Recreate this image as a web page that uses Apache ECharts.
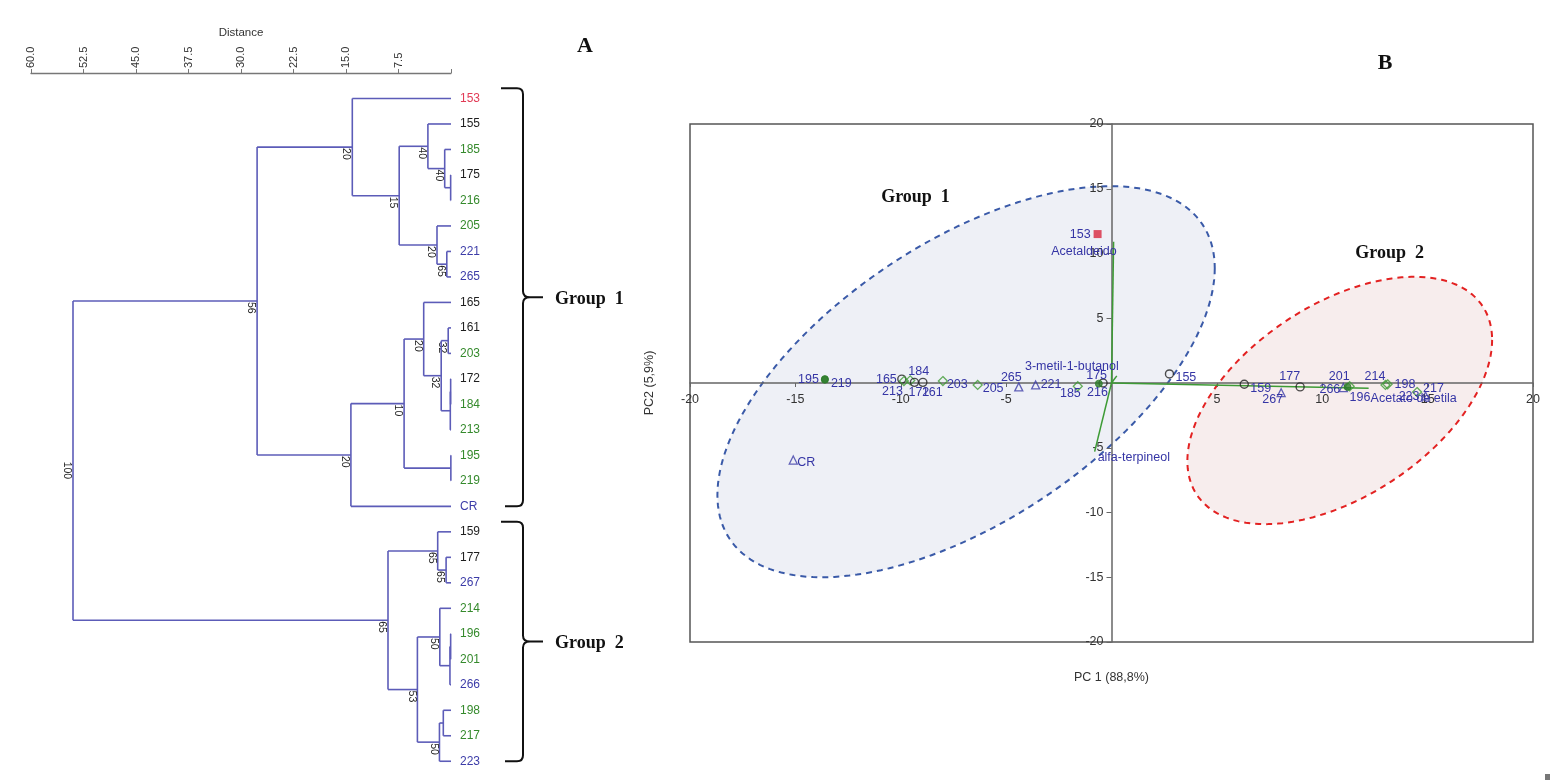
<!DOCTYPE html>
<html>
<head>
<meta charset="utf-8">
<script src="https://cdn.jsdelivr.net/npm/echarts@6.0.0/dist/echarts.min.js"></script>
<style>
html,body{margin:0;padding:0;background:#ffffff;}
#chart{width:1562px;height:780px;}
</style>
</head>
<body>
<div id="chart"></div>
<script>
/* ================= Panel A : dendrogram ================= */
const leaves = ['153','155','185','175','216','205','221','265','165','161','203','172','184','213','195','219','CR','159','177','267','214','196','201','266','198','217','223'];
const leafGroup = ['red','black','green','black','green','green','blue','blue','black','black','green','black','green','green','green','green','blue','black','black','blue','green','green','green','blue','green','green','blue'];
// merges (children are leaf names or 'm<index>')
const mergeLeft    = ['175','185','155','221','205','m2','153','161','172','m8','m7','165','195','m11','m13','m6','177','159','196','m18','214','198','m21','m20','m17','m15'];
const mergeRight   = ['216','m0','m1','265','m3','m4','m5','203','184','213','m9','m10','219','m12','CR','m14','267','m16','201','266','m19','217','223','m22','m23','m24'];
const mergeHeight  = [0.05,0.9,3.3,0.6,2.0,7.4,14.1,0.4,0.05,0.1,1.4,3.9,0.02,6.7,14.3,27.7,0.7,1.9,0.05,0.15,1.6,1.1,1.65,4.8,9.0,54.0];
const mergeSupport = ['','40','40','65','20','15','20','32','','','32','20','','10','20','56','65','65','','','50','','50','53','65','100'];
const distanceLabels = ['7.5','15.0','22.5','30.0','37.5','45.0','52.5','60.0'];
const groupNames = ['Group  1','Group  2'];
const groupFirstLeaf = ['153','159'];
const groupLastLeaf = ['CR','223'];

/* ================= Panel B : PCA biplot ================= */
const pcaSamples = ['195','219','165','213','184','172','161','203','205','265','221','185','175','216','CR','153','155','159','267','177','266','201','196','214','198','217','223'];
const pc1 = [-13.6,-13.6,-9.95,-9.85,-9.55,-9.35,-8.95,-8.0,-6.35,-4.4,-3.6,-1.6,-0.4,-0.6,-15.1,-0.66,2.75,6.3,8.05,8.95,11.0,11.3,11.2,13.0,13.1,14.5,14.9];
const pc2 = [0.3,0.25,0.3,0.15,0.2,0.05,0.05,0.15,-0.15,-0.3,-0.15,-0.25,0.0,-0.05,-5.95,11.5,0.7,-0.1,-0.75,-0.3,-0.35,-0.25,-0.3,-0.15,-0.1,-0.7,-1.0];
const pcaMarker = ['g','g','o','d','d','o','o','d','d','t','t','d','o','g','t','s','o','o','t','o','t','d','g','d','d','d','t'];
const variables = ['Acetaldeido','3-metil-1-butanol','alfa-terpineol','Acetato de etila'];
const loadPC1 = [0.1,0.25,-0.8,12.2];
const loadPC2 = [10.9,0.55,-5.3,-0.4];
const ellipseCX = [-6.9,10.83];
const ellipseCY = [0.1,-1.35];
const ellipseRX = [11.8,7.23];
const ellipseRY = [15.1,9.55];
const ellipseCorr = [0.58,0.49];
const pcaTickLabels = [-20,-15,-10,-5,5,10,15,20];

/* ---------------- styles (kept apart from data) ---------------- */
const SANS = "'Liberation Sans', Arial, Helvetica, sans-serif";
const SERIF = "'Liberation Serif', 'Times New Roman', serif";
const LEAF_COLORS = {red:'#e23a55', black:'#1e1e1e', green:'#358a2c', blue:'#3c3ca8'};
const TREE_COLOR = '#5c5cb8';
const LABEL_BLUE = '#3535a5';
const labelPlace = { // [align, dx, dy] in px relative to marker
  '195':['right',-6,0],'219':['left',6,4],'165':['right',-5,0],'213':['right',-1,10],'184':['left',-2,-9],
  '172':['left',-6,10],'161':['left',-1,10],'203':['left',4,3],'205':['left',5,4],'265':['right',3,-9],
  '221':['left',5,0],'185':['right',3,7],'175':['right',4,-7],'216':['right',9,9],'CR':['left',4,2],
  '153':['right',-7,0],'155':['left',6,4],'159':['left',6,4],'267':['right',2,7],'177':['right',0,-10],
  '266':['right',-3,2],'201':['right',0,-10],'196':['left',2,11],'214':['right',0,-8],'198':['left',7,0],
  '217':['left',6,-4],'223':['right',-6,1]
};
const loadLabelPlace = [['right',3,10],['right',2,-9],['left',3,6],['left',2,10]];
const markerStyle = {
  o:{symbol:'circle',size:8,item:{color:'rgba(0,0,0,0)',borderColor:'#222',borderWidth:1.4}},
  d:{symbol:'diamond',size:9,item:{color:'rgba(0,0,0,0)',borderColor:'#3f9a35',borderWidth:1.3}},
  g:{symbol:'circle',size:7,item:{color:'#2d7d2a',borderColor:'#2d7d2a',borderWidth:1}},
  t:{symbol:'triangle',size:8,item:{color:'rgba(0,0,0,0)',borderColor:'#3c3ca8',borderWidth:1.3}},
  s:{symbol:'rect',size:8,item:{color:'#d8283f',borderColor:'#d8283f',borderWidth:0}}
};
const ellipseStroke = ['#3a5aa8','#e32222'];
const ellipseFill = ['#eef0f6','#f7eded'];

/* ---------------- derived tree geometry ---------------- */
const nodeY = {}, nodeH = {};
leaves.forEach((n,i)=>{nodeY[n]=i; nodeH[n]=0;});
mergeLeft.forEach((a,i)=>{
  const b = mergeRight[i];
  nodeY['m'+i] = (nodeY[a]+nodeY[b])/2;
  nodeH['m'+i] = mergeHeight[i];
});
const dendroData = mergeLeft.map((a,i)=>{
  const b = mergeRight[i];
  return [mergeHeight[i], nodeY[a], nodeY[b], nodeH[a], nodeH[b]];
});

function renderDendro(params, api){
  const h=api.value(0), yA=api.value(1), yB=api.value(2), hA=api.value(3), hB=api.value(4);
  const pT=api.coord([h,yA]), pB=api.coord([h,yB]), cA=api.coord([hA,yA]), cB=api.coord([hB,yB]);
  const st={stroke:TREE_COLOR,lineWidth:1.6};
  const ch=[
    {type:'line',shape:{x1:pT[0],y1:pT[1],x2:pB[0],y2:pB[1]},style:st},
    {type:'line',shape:{x1:cA[0],y1:cA[1],x2:pT[0],y2:pT[1]},style:st},
    {type:'line',shape:{x1:cB[0],y1:cB[1],x2:pB[0],y2:pB[1]},style:st}
  ];
  const sup = mergeSupport[params.dataIndex];
  if (sup){
    const m=api.coord([h,(yA+yB)/2]);
    ch.push({type:'text',x:m[0]-6,y:m[1]+1,rotation:-Math.PI/2,
      style:{text:sup,fill:'#222',font:'10.5px '+SANS,align:'left',verticalAlign:'middle'}});
  }
  return {type:'group',children:ch};
}
function renderLeafLabel(params, api){
  const p=api.coord([api.value(0),api.value(1)]);
  const i=params.dataIndex;
  return {type:'text',x:p[0]+9,y:p[1],style:{text:leaves[i],fill:LEAF_COLORS[leafGroup[i]],font:'12px '+SANS,align:'left',verticalAlign:'middle'}};
}
function renderBrace(params, api){
  const k=params.dataIndex;
  const pTop=api.coord([0,api.value(1)]), pBot=api.coord([0,api.value(2)]);
  const bx=pTop[0]+72, top=pTop[1], bot=pBot[1], mid=(top+bot)/2;
  const d=`M${bx-22},${top} L${bx-6},${top} Q${bx},${top} ${bx},${top+6} L${bx},${mid-6} Q${bx},${mid} ${bx+7},${mid} L${bx+20},${mid} M${bx+7},${mid} Q${bx},${mid} ${bx},${mid+6} L${bx},${bot-6} Q${bx},${bot} ${bx-6},${bot} L${bx-18},${bot}`;
  return {type:'group',children:[
    {type:'path',shape:{pathData:d},style:{stroke:'#111',lineWidth:2,fill:null}},
    {type:'text',x:bx+32,y:mid+2,style:{text:groupNames[k],font:'bold 18px '+SERIF,fill:'#111',align:'left',verticalAlign:'middle'}}
  ]};
}
function renderEllipse(params, api){
  const i=params.dataIndex;
  const phi=Math.acos(ellipseCorr[i]);
  const pts=[];
  for(let k=0;k<=180;k++){
    const t=k/180*Math.PI*2;
    pts.push(api.coord([ellipseCX[i]+ellipseRX[i]*Math.cos(t), ellipseCY[i]+ellipseRY[i]*Math.cos(t+phi)]));
  }
  return {type:'polygon',shape:{points:pts},style:{fill:ellipseFill[i],stroke:ellipseStroke[i],lineWidth:2,lineDash:[6,5]}};
}
function renderLoading(params, api){
  const i=params.dataIndex;
  const o=api.coord([0,0]), p=api.coord([loadPC1[i],loadPC2[i]]);
  const pl=loadLabelPlace[i];
  return {type:'group',children:[
    {type:'line',shape:{x1:o[0],y1:o[1],x2:p[0],y2:p[1]},style:{stroke:'#3d9b35',lineWidth:1.5}},
    {type:'text',x:p[0]+pl[1],y:p[1]+pl[2],style:{text:variables[i],fill:LABEL_BLUE,font:'12.5px '+SANS,align:pl[0],verticalAlign:'middle'}}
  ]};
}
function renderPcaTicks(params, api){
  const v=pcaTickLabels[params.dataIndex];
  const px=api.coord([v,0]), py=api.coord([0,v]);
  const st={fill:'#333',font:'12.5px '+SANS};
  return {type:'group',children:[
    {type:'text',x:px[0],y:px[1]+17,style:Object.assign({text:String(v),align:'center',verticalAlign:'middle'},st)},
    {type:'text',x:py[0]-8,y:py[1],style:Object.assign({text:String(v),align:'right',verticalAlign:'middle'},st)}
  ]};
}

const scatterData = pcaSamples.map((n,i)=>{
  const m=markerStyle[pcaMarker[i]], pl=labelPlace[n];
  return {name:n,value:[pc1[i],pc2[i]],symbol:m.symbol,symbolSize:m.size,itemStyle:m.item,
    label:{show:true,formatter:n,position:'inside',align:pl[0],verticalAlign:'middle',offset:[pl[1],pl[2]],
      color:LABEL_BLUE,fontSize:12.5,fontFamily:SANS,textBorderWidth:0,opacity:1}};
});

const option = {
  animation:false,
  backgroundColor:'#ffffff',
  grid:[
    {left:31,right:1111,top:73,bottom:6,show:false},
    {left:690,right:29,top:124,bottom:138,show:true,borderColor:'#555',borderWidth:1.5,backgroundColor:'rgba(0,0,0,0)'}
  ],
  xAxis:[
    {gridIndex:0,type:'value',min:0,max:60,interval:7.5,inverse:true,position:'top',
     name:'Distance',nameLocation:'middle',nameGap:31,nameTextStyle:{color:'#333',fontSize:11.5,fontFamily:SANS},
     axisLine:{onZero:false,lineStyle:{color:'#777',width:1.3}},
     axisTick:{show:true,length:4,lineStyle:{color:'#777'}},
     axisLabel:{rotate:-90,margin:5,color:'#333',fontSize:11,fontFamily:SANS,
       formatter:(v)=>{const s=v.toFixed(1); return distanceLabels.indexOf(s)>=0?s:'';}},
     splitLine:{show:false}},
    {gridIndex:1,type:'value',min:-20,max:20,interval:5,z:3,
     axisLine:{onZero:true,lineStyle:{color:'#666',width:1.5}},
     axisTick:{show:true,length:4,lineStyle:{color:'#666'}},
     axisLabel:{show:false},
     splitLine:{show:false}}
  ],
  yAxis:[
    {gridIndex:0,type:'value',min:-1,max:26.5,inverse:true,show:false},
    {gridIndex:1,type:'value',min:-20,max:20,interval:5,z:3,
     axisLine:{onZero:true,lineStyle:{color:'#666',width:1.5}},
     axisTick:{show:true,length:5,lineStyle:{color:'#666'}},
     axisLabel:{show:false},
     splitLine:{show:false}}
  ],
  series:[
    {type:'custom',xAxisIndex:0,yAxisIndex:0,renderItem:renderDendro,data:dendroData,
     encode:{x:[0,3,4],y:[1,2]},silent:true,z:2},
    {type:'custom',xAxisIndex:0,yAxisIndex:0,renderItem:renderLeafLabel,data:leaves.map((n,i)=>[0,i]),
     encode:{x:0,y:1},silent:true,z:2},
    {type:'custom',xAxisIndex:0,yAxisIndex:0,renderItem:renderBrace,
     data:groupNames.map((n,k)=>[0,leaves.indexOf(groupFirstLeaf[k])-0.4,leaves.indexOf(groupLastLeaf[k])]),
     encode:{x:0,y:[1,2]},silent:true,z:2,clip:false},
    {type:'custom',xAxisIndex:1,yAxisIndex:1,renderItem:renderEllipse,data:ellipseCX.map((c,i)=>[c,ellipseCY[i]]),
     encode:{x:0,y:1},silent:true,z:1},
    {type:'custom',xAxisIndex:1,yAxisIndex:1,renderItem:renderPcaTicks,data:pcaTickLabels.map(v=>[v,v]),
     encode:{x:0,y:1},silent:true,z:4,clip:false},
    {type:'custom',xAxisIndex:1,yAxisIndex:1,renderItem:renderLoading,data:loadPC1.map((x,i)=>[x,loadPC2[i]]),
     encode:{x:0,y:1},silent:true,z:5},
    {type:'scatter',xAxisIndex:1,yAxisIndex:1,data:scatterData,z:6,silent:true,emphasis:{disabled:true}}
  ]
};

const chart = echarts.init(document.getElementById('chart'), null, {renderer:'canvas'});
chart.setOption(option);

/* annotations: group names in PCA, panel letters, axis titles */
const g = [];
const gp1 = chart.convertToPixel({gridIndex:1},[-9.3,14.3]);
const gp2 = chart.convertToPixel({gridIndex:1},[13.2,10.0]);
g.push({type:'text',x:gp1[0],y:gp1[1],style:{text:groupNames[0],font:'bold 18px '+SERIF,fill:'#111',align:'center',verticalAlign:'middle'}});
g.push({type:'text',x:gp2[0],y:gp2[1],style:{text:groupNames[1],font:'bold 18px '+SERIF,fill:'#111',align:'center',verticalAlign:'middle'}});
g.push({type:'text',x:585,y:46,style:{text:'A',font:'bold 22px '+SERIF,fill:'#111',align:'center',verticalAlign:'middle'}});
g.push({type:'text',x:1385,y:63,style:{text:'B',font:'bold 22px '+SERIF,fill:'#111',align:'center',verticalAlign:'middle'}});
const origin = chart.convertToPixel({gridIndex:1},[0,0]);
g.push({type:'text',x:origin[0],y:678,style:{text:'PC 1 (88,8%)',font:'12.5px '+SANS,fill:'#333',align:'center',verticalAlign:'middle'}});
g.push({type:'text',x:650,y:origin[1],rotation:Math.PI/2,style:{text:'PC2 (5,9%)',font:'12.5px '+SANS,fill:'#333',align:'center',verticalAlign:'middle'}});
g.push({type:'rect',shape:{x:1545,y:774,width:5,height:6},style:{fill:'#777'}});
chart.setOption({graphic:g});
</script>
</body>
</html>
